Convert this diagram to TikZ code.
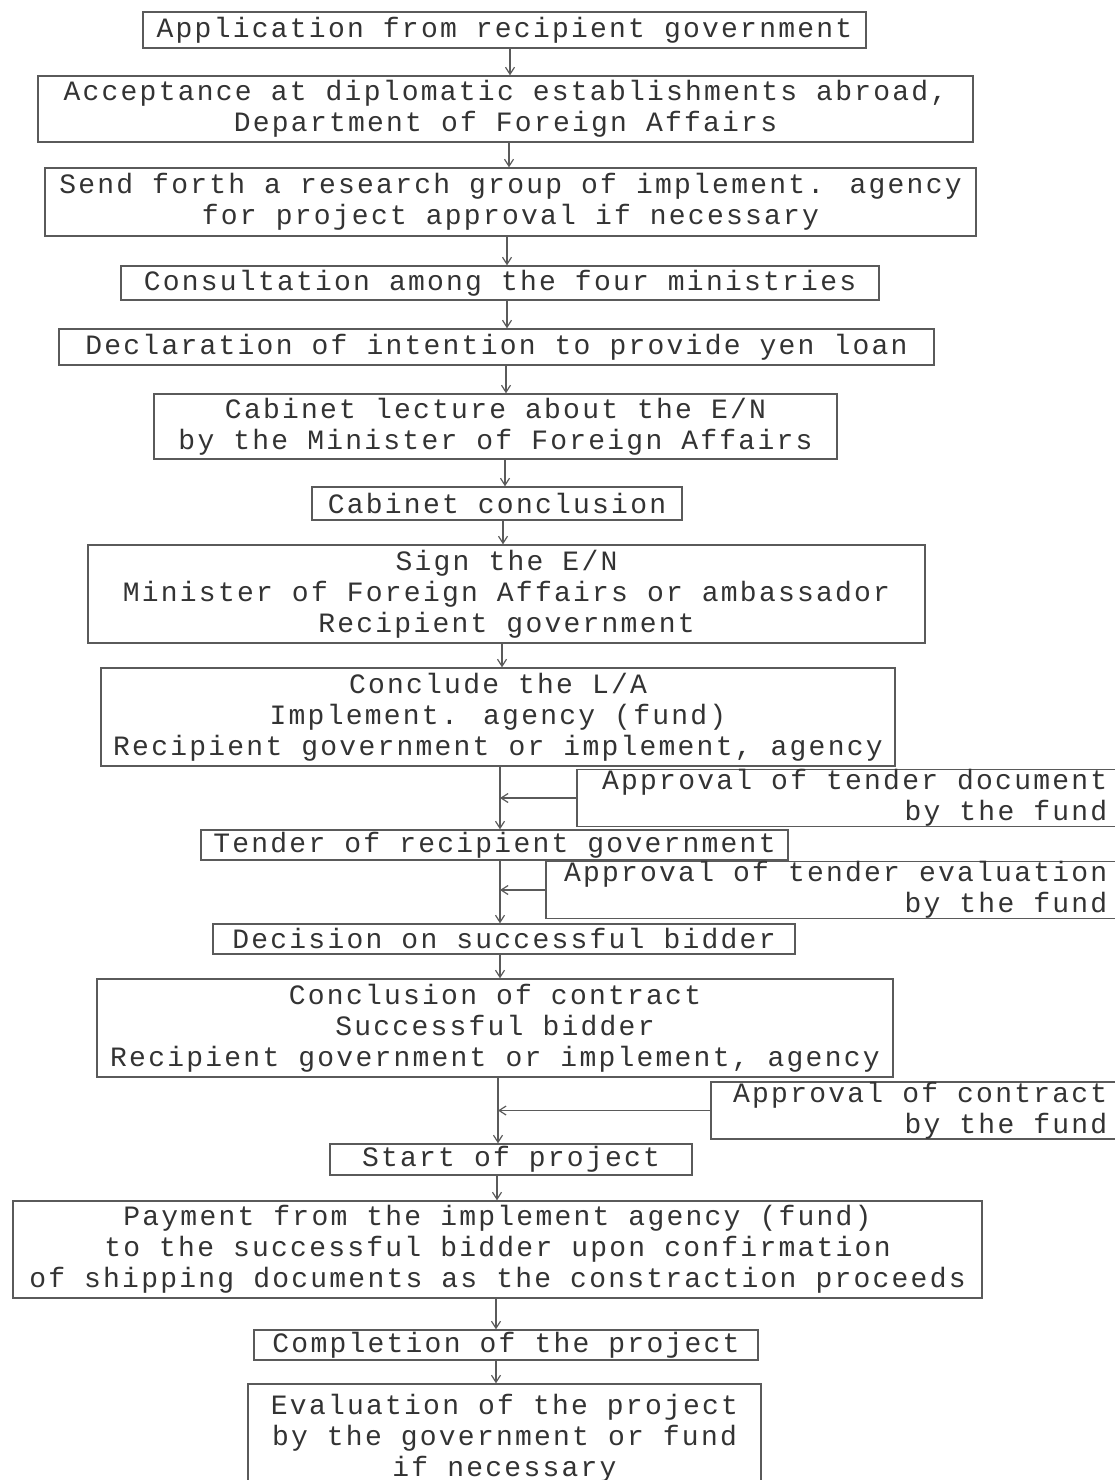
\documentclass[tikz,border=0pt]{standalone}
\usepackage{fontspec}
\newfontfamily\tw[LetterSpace=8]{Liberation Mono}
\newcommand\boxfont{\tw\fontsize{28}{31}\selectfont}
\usetikzlibrary{arrows.meta}
\definecolor{ink}{HTML}{333333}
\definecolor{lin}{HTML}{5A5A5A}
\begin{document}
\begin{tikzpicture}[x=1pt,y=-1pt,
  box/.style={draw=lin, line width=1.4pt, inner sep=0pt, text=ink, align=center,
    font=\boxfont},
  sidebox/.style={draw=lin, line width=1.4pt, inner ysep=0pt, inner xsep=12pt, text=ink, align=right,
    font=\boxfont, anchor=east},
  arr/.style={draw=lin, line width=1.3pt, -{Straight Barb[length=7pt,width=9pt,line width=1.2pt]}}]
\useasboundingbox (0,0) rectangle (1115,1480);
\clip (0,0) rectangle (1115,1480);
\fill[white] (0,0) rectangle (1115,1480);

\node[box, minimum width=723, minimum height=36] (b1) at (504.5,30) {Application from recipient government};
\node[box, minimum width=935, minimum height=66] (b2) at (505.5,109) {Acceptance at diplomatic establishments abroad,\\Department of Foreign Affairs};
\node[box, minimum width=931, minimum height=68] (b3) at (510.5,202) {Send forth a research group of implement. agency\\for project approval if necessary};
\node[box, minimum width=758, minimum height=34] (b4) at (500,283) {Consultation among the four ministries};
\node[box, minimum width=875, minimum height=36] (b5) at (496.5,347) {Declaration of intention to provide yen loan};
\node[box, minimum width=683, minimum height=65] (b6) at (495.5,426.5) {Cabinet lecture about the E/N\\by the Minister of Foreign Affairs};
\node[box, minimum width=370, minimum height=33] (b7) at (497,503.5) {Cabinet conclusion};
\node[box, minimum width=837, minimum height=98] (b8) at (506.5,594) {Sign the E/N\\Minister of Foreign Affairs or ambassador\\Recipient government};
\node[box, minimum width=794, minimum height=98] (b9) at (498,717) {Conclude the L/A\\Implement. agency (fund)\\Recipient government or implement, agency};
\node[sidebox, minimum height=56] (b10) at (1120,798) {\hspace*{13pt}Approval of tender document\\by the fund};
\node[box, minimum width=587, minimum height=30] (b11) at (494.5,845) {Tender of recipient government};
\node[sidebox, minimum height=56] (b12) at (1120,890) {\hspace*{6pt}Approval of tender evaluation\\by the fund};
\node[box, minimum width=582, minimum height=30] (b13) at (504,939) {Decision on successful bidder};
\node[box, minimum width=796, minimum height=98] (b14) at (495,1028) {Conclusion of contract\\Successful bidder\\Recipient government or implement, agency};
\node[sidebox, minimum height=55] (b15) at (1120,1110.5) {\hspace*{10pt}Approval of contract\\by the fund};
\node[box, minimum width=362, minimum height=31] (b16) at (511,1159.5) {Start of project};
\node[box, minimum width=969, minimum height=97] (b17) at (497.5,1249.5) {Payment from the implement agency (fund)\\to the successful bidder upon confirmation\\of shipping documents as the constraction proceeds};
\node[box, minimum width=504, minimum height=30] (b18) at (506,1345) {Completion of the project};
\node[box, minimum width=513, minimum height=108] (b19) at (504.5,1438) {Evaluation of the project\\by the government or fund\\if necessary};

\coordinate (s1) at (510,0);
\coordinate (s2) at (509,0);
\coordinate (s3) at (507,0);
\coordinate (s5) at (506,0);
\coordinate (s6) at (505,0);
\coordinate (s7) at (503,0);
\coordinate (s8) at (502,0);
\coordinate (s9) at (500,0);
\coordinate (s12) at (498,0);
\coordinate (s13) at (497,0);
\coordinate (s14) at (496,0);

\draw[arr] (b1.south -| s1) -- (b2.north -| s1);
\draw[arr] (b2.south -| s2) -- (b3.north -| s2);
\draw[arr] (b3.south -| s3) -- (b4.north -| s3);
\draw[arr] (b4.south -| s3) -- (b5.north -| s3);
\draw[arr] (b5.south -| s5) -- (b6.north -| s5);
\draw[arr] (b6.south -| s6) -- (b7.north -| s6);
\draw[arr] (b7.south -| s7) -- (b8.north -| s7);
\draw[arr] (b8.south -| s8) -- (b9.north -| s8);
\draw[arr] (b9.south -| s9) -- (b11.north -| s9);
\draw[arr] (b10.west) -- (b10.west -| s9);
\draw[arr] (b11.south -| s9) -- (b13.north -| s9);
\draw[arr] (b12.west) -- (b12.west -| s9);
\draw[arr] (b13.south -| s9) -- (b14.north -| s9);
\draw[arr] (b14.south -| s12) -- (b16.north -| s12);
\draw[arr] (b15.west) -- (b15.west -| s12);
\draw[arr] (b16.south -| s13) -- (b17.north -| s13);
\draw[arr] (b17.south -| s14) -- (b18.north -| s14);
\draw[arr] (b18.south -| s14) -- (b19.north -| s14);
\end{tikzpicture}
\end{document}
